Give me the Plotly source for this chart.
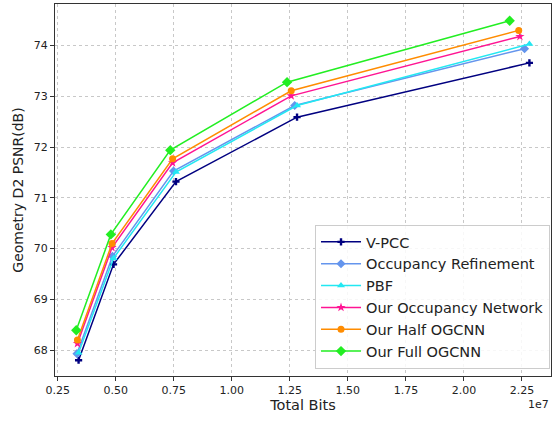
import plotly.graph_objects as go

# Rate-distortion results: total bits vs. geometry D2 PSNR (dB)
series_names = [
    "V-PCC",
    "Occupancy Refinement",
    "PBF",
    "Our Occupancy Network",
    "Our Half OGCNN",
    "Our Full OGCNN",
]

bits_vpcc = [3.40e6, 4.905e6, 7.595e6, 12.81e6, 22.82e6]
psnr_vpcc = [67.80, 69.69, 71.32, 72.59, 73.66]

bits_occref = [3.33e6, 4.86e6, 7.49e6, 12.71e6, 22.61e6]
psnr_occref = [67.93, 69.85, 71.53, 72.82, 73.94]

bits_pbf = [3.40e6, 4.905e6, 7.595e6, 12.81e6, 22.82e6]
psnr_pbf = [67.95, 69.81, 71.51, 72.82, 74.03]

bits_occnet = [3.35e6, 4.84e6, 7.45e6, 12.56e6, 22.41e6]
psnr_occnet = [68.13, 70.02, 71.69, 73.01, 74.18]

bits_half = [3.35e6, 4.84e6, 7.45e6, 12.56e6, 22.36e6]
psnr_half = [68.20, 70.10, 71.77, 73.11, 74.30]

bits_full = [3.30e6, 4.79e6, 7.35e6, 12.38e6, 21.97e6]
psnr_full = [68.39, 70.28, 71.94, 73.28, 74.49]

x_tick_vals = [0.25e7, 0.50e7, 0.75e7, 1.00e7, 1.25e7, 1.50e7, 1.75e7, 2.00e7, 2.25e7]
x_tick_text = ["0.25", "0.50", "0.75", "1.00", "1.25", "1.50", "1.75", "2.00", "2.25"]
y_tick_vals = [68, 69, 70, 71, 72, 73, 74]

xs = [bits_vpcc, bits_occref, bits_pbf, bits_occnet, bits_half, bits_full]
ys = [psnr_vpcc, psnr_occref, psnr_pbf, psnr_occnet, psnr_half, psnr_full]
colors = ["#000080", "#6495ED", "#22E8F2", "#FF1493", "#FF8C00", "#22EE22"]
symbols = ["cross", "diamond", "triangle-up", "star", "circle", "diamond"]
sizes = [6, 7, 7, 7, 7, 8]

fig = go.Figure()
for name, x, y, c, s, sz in zip(series_names, xs, ys, colors, symbols, sizes):
    fig.add_trace(go.Scatter(
        x=x, y=y, name=name, mode="lines+markers",
        line=dict(color=c, width=1.5),
        marker=dict(color=c, symbol=s, size=sz, line=dict(width=0)),
    ))

font_family = "DejaVu Sans"
axis_common = dict(
    showline=True, mirror=True, linecolor="#333333", linewidth=1.2,
    ticks="outside", ticklen=4, tickcolor="#333333", tickwidth=1,
    showgrid=True, gridcolor="#c8c8c8", griddash="dot", gridwidth=1,
    zeroline=False,
    tickfont=dict(family=font_family, size=11, color="#222222"),
)

fig.update_xaxes(
    range=[0.2384e7, 2.375e7],
    tickvals=x_tick_vals, ticktext=x_tick_text,
    title=dict(text="Total Bits", font=dict(family=font_family, size=14.5, color="#222222"), standoff=2),
    **axis_common,
)
fig.update_yaxes(
    range=[67.49, 74.82],
    tickvals=y_tick_vals,
    title=dict(text="Geometry D2 PSNR(dB)", font=dict(family=font_family, size=14, color="#222222"), standoff=6),
    **axis_common,
)

fig.add_annotation(
    text="1e7", xref="paper", yref="paper", x=1.0, y=-0.055,
    xanchor="right", yanchor="top", showarrow=False,
    font=dict(family=font_family, size=11, color="#222222"),
)

fig.update_layout(
    width=557, height=422,
    margin=dict(l=55, r=6, t=4, b=46),
    plot_bgcolor="white", paper_bgcolor="white",
    font=dict(family=font_family),
    legend=dict(
        x=0.998, y=0.019, xanchor="right", yanchor="bottom",
        bgcolor="rgba(255,255,255,0.85)", bordercolor="#cccccc", borderwidth=1,
        font=dict(family=font_family, size=14.5, color="#222222"),
        itemwidth=40,
    ),
)

fig.write_html("out.html")
